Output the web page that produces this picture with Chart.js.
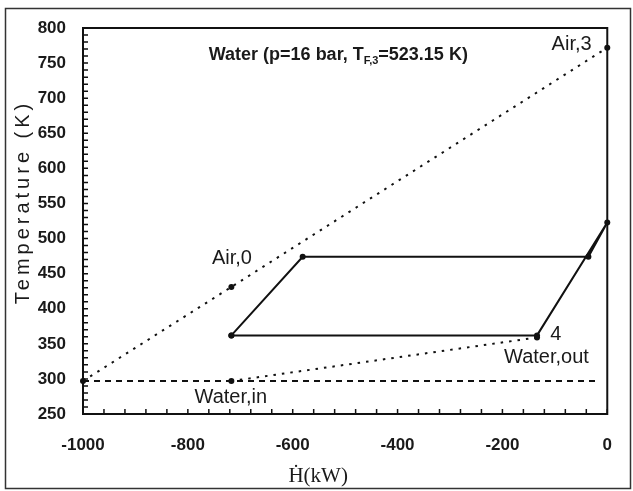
<!DOCTYPE html>
<html><head><meta charset="utf-8">
<script src="https://cdn.jsdelivr.net/npm/chart.js@4.4.1/dist/chart.umd.min.js"></script>
<style>html,body{margin:0;padding:0;background:#fff;}canvas{display:block;}</style>
</head><body>
<canvas id="c" width="633" height="491"></canvas>
<script>
// ---- data ----
const xTickValues = [-1000, -800, -600, -400, -200, 0];
const yTickValues = [250, 300, 350, 400, 450, 500, 550, 600, 650, 700, 750, 800];
const airLine = [{x:-1000, y:297}, {x:-717, y:431}, {x:0, y:772}];
const waterInOutLine = [{x:-717, y:297}, {x:-134, y:359}];
const ambientLine = [{x:-1000, y:297}, {x:-15, y:297}];
const waterCycle = [{x:-717, y:362}, {x:-581, y:474}, {x:-36, y:474}, {x:0, y:523}, {x:-134, y:362}, {x:-717, y:362}];
const pointLabels = [
  {text:'Air,0', x:-716, y:472},
  {text:'Air,3', x:-68, y:776},
  {text:'4', x:-98, y:364},
  {text:'Water,out', x:-116, y:330},
  {text:'Water,in', x:-718, y:274}
];
const titleParts = ['Water (p=16 bar, T', 'F,3', '=523.15 K)'];
const titlePos = {x:-513, y:764};
const xAxisTitle = 'Ḣ(kW)';
const yAxisTitle = 'Temperature (K)';

const SANS = "'Liberation Sans', Arial, sans-serif";
const LABEL_FONT = "20px " + SANS;
const INK = '#1a1a1a';

const decor = {
  id: 'decor',
  beforeDatasetsDraw(chart) {
    const {ctx, chartArea: a, scales: {x, y}} = chart;
    ctx.save();
    ctx.strokeStyle = '#111';
    ctx.lineWidth = 2;
    ctx.strokeRect(a.left, a.top, a.right - a.left, a.bottom - a.top);
    ctx.lineWidth = 1.5;
    ctx.beginPath();
    for (let v = y.min; v <= y.max; v += 10) {
      const py = y.getPixelForValue(v);
      ctx.moveTo(a.left, py); ctx.lineTo(a.left + 5, py);
    }
    for (let v = x.min; v <= x.max; v += 40) {
      const px = x.getPixelForValue(v);
      ctx.moveTo(px, a.bottom); ctx.lineTo(px, a.bottom - 5);
    }
    ctx.stroke();
    ctx.restore();
  },
  afterDraw(chart) {
    const {ctx, chartArea: a, scales: {x, y}} = chart;
    ctx.save();
    // outer frame
    ctx.strokeStyle = '#333';
    ctx.lineWidth = 1.5;
    ctx.strokeRect(5.5, 8.5, 625, 480);
    // point labels
    ctx.fillStyle = INK;
    ctx.font = LABEL_FONT;
    ctx.textAlign = 'center';
    ctx.textBaseline = 'middle';
    pointLabels.forEach(l => ctx.fillText(l.text, x.getPixelForValue(l.x), y.getPixelForValue(l.y)));
    // title with subscript
    const mainFont = "bold 18px " + SANS;
    const subFont = "bold 11px " + SANS;
    ctx.textAlign = 'left';
    ctx.textBaseline = 'alphabetic';
    ctx.font = mainFont; const w0 = ctx.measureText(titleParts[0]).width;
    const w2 = ctx.measureText(titleParts[2]).width;
    ctx.font = subFont; const w1 = ctx.measureText(titleParts[1]).width;
    const cx = x.getPixelForValue(titlePos.x), base = y.getPixelForValue(titlePos.y) + 7;
    let tx = cx - (w0 + w1 + w2) / 2;
    ctx.font = mainFont; ctx.fillText(titleParts[0], tx, base); tx += w0;
    ctx.font = subFont; ctx.fillText(titleParts[1], tx, base + 4); tx += w1;
    ctx.font = mainFont; ctx.fillText(titleParts[2], tx, base);
    // x axis title
    ctx.font = "21px 'Liberation Serif', 'DejaVu Serif', serif";
    ctx.textAlign = 'center';
    ctx.fillText(xAxisTitle, (a.left + a.right) / 2 - 27, a.bottom + 68);
    // y axis title (rotated, letter-spaced)
    ctx.translate(a.left - 60, (a.top + a.bottom) / 2 - 19);
    ctx.rotate(-Math.PI / 2);
    ctx.font = LABEL_FONT;
    ctx.letterSpacing = '4px';
    ctx.textBaseline = 'middle';
    ctx.fillText(yAxisTitle, 0, 0);
    ctx.restore();
  }
};

const lineDs = (data, dash, points) => ({
  data, showLine: true, borderColor: '#111', backgroundColor: '#111',
  borderWidth: 2, borderDash: dash, pointRadius: points ? 3 : 0,
  pointHoverRadius: 0, pointBorderWidth: 0, clip: false, tension: 0
});

const tickFont = {family: SANS, size: 17, weight: 'bold'};

new Chart(document.getElementById('c'), {
  type: 'scatter',
  data: {
    datasets: [
      lineDs(ambientLine, [6, 5], false),
      lineDs(airLine, [2.5, 6], true),
      lineDs(waterInOutLine, [2.5, 6], true),
      lineDs(waterCycle, [], true)
    ]
  },
  options: {
    responsive: false, animation: false,
    layout: {padding: {left: 0, top: 28, right: 22, bottom: 0}},
    plugins: {legend: {display: false}, tooltip: {enabled: false}},
    scales: {
      x: {
        type: 'linear', min: xTickValues[0], max: xTickValues[xTickValues.length - 1],
        afterBuildTicks: s => { s.ticks = xTickValues.map(v => ({value: v})); },
        afterFit: s => { s.height = 77; },
        grid: {display: false, drawTicks: false},
        border: {display: false},
        ticks: {color: INK, font: tickFont, padding: 21, maxRotation: 0, callback: v => String(v)}
      },
      y: {
        type: 'linear', min: yTickValues[0], max: yTickValues[yTickValues.length - 1],
        afterBuildTicks: s => { s.ticks = yTickValues.map(v => ({value: v})); },
        afterFit: s => { s.width = 83; },
        grid: {display: false, drawTicks: false},
        border: {display: false},
        ticks: {color: INK, font: tickFont, padding: 17, callback: v => String(v)}
      }
    }
  },
  plugins: [decor]
});
</script>
</body></html>
